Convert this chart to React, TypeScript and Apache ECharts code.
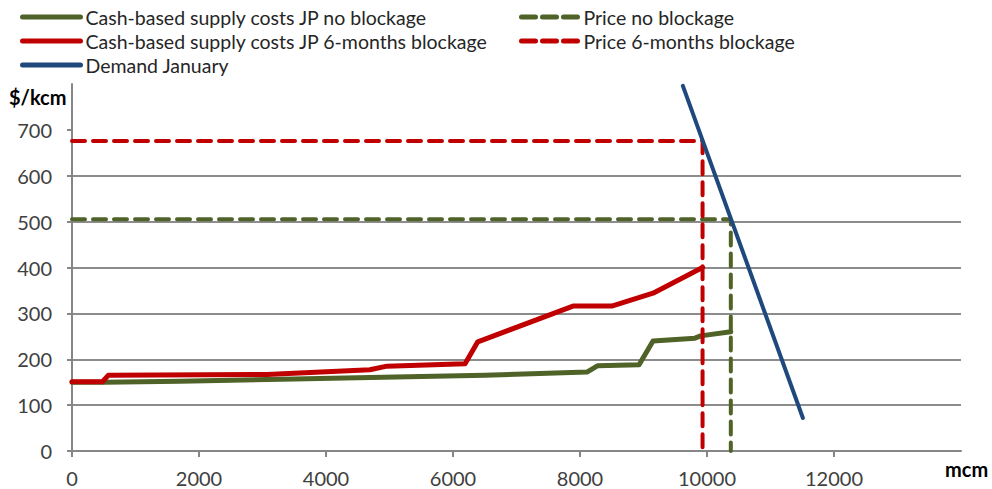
import React, { useEffect, useRef } from "react";
import * as echarts from "echarts";

// Cash-based supply cost curves (x: mcm, y: $/kcm)
const supplyNoBlockage: [number, number][] = [
  [0, 150], [500, 150], [1700, 152], [3500, 157], [6500, 165],
  [8110, 172], [8280, 186], [8930, 188], [9150, 240], [9810, 246],
  [9900, 251], [10375, 260],
];
const supplyBlockage: [number, number][] = [
  [0, 151], [480, 151], [570, 165], [3070, 167], [4690, 177],
  [4960, 185], [6190, 190], [6390, 238], [7890, 316], [8500, 316],
  [9150, 344], [9930, 400],
];
// Market clearing prices and quantities
const priceNoBlockage: [number, number][] = [[0, 505], [10375, 505], [10375, 0]];
const priceBlockage: [number, number][] = [[0, 676], [9930, 676], [9930, 0]];
// Demand curve for January
const demandJanuary: [number, number][] = [[9620, 796], [11510, 72]];

const xTicks = [0, 2000, 4000, 6000, 8000, 10000, 12000];
const yTicks = [0, 100, 200, 300, 400, 500, 600, 700];

const GREEN = "#4F6228";
const RED = "#C00000";
const BLUE = "#1F497D";
const FONT = "Lato";
const TEXT = "#404040";

const N_GREEN = "Cash-based supply costs JP no blockage";
const N_RED = "Cash-based supply costs JP 6-months blockage";
const N_DEMAND = "Demand January";
const N_PGREEN = "Price no blockage";
const N_PRED = "Price 6-months blockage";

export default function App() {
  const ref = useRef<HTMLDivElement>(null);
  useEffect(() => {
    if (!ref.current) return;
    const chart = echarts.init(ref.current, undefined, { renderer: "svg" });
    const solid = (name: string, color: string, data: [number, number][], width = 5) => ({
      name,
      type: "line",
      data,
      symbol: "none",
      lineStyle: { color, width, cap: "round", join: "round" },
      itemStyle: { color },
    });
    const dashed = (name: string, color: string, data: [number, number][]) => ({
      name,
      type: "line",
      data,
      symbol: "none",
      lineStyle: { color, width: 4, type: [13, 8], cap: "round" },
      itemStyle: { color },
    });
    const legendText = { fontFamily: FONT, fontSize: 19.5, color: "#262626" };
    const legendSolid = (name: string, color: string) => ({
      name,
      itemStyle: { opacity: 0 },
      lineStyle: { color, width: 5, cap: "round", type: "solid" },
    });
    const legendDashed = (name: string, color: string) => ({
      name,
      itemStyle: { opacity: 0 },
      lineStyle: { color, width: 5, cap: "round", type: [14, 7] },
    });
    chart.setOption({
      animation: false,
      textStyle: { fontFamily: FONT },
      grid: { left: 72, right: 31, top: 84, bottom: 38, containLabel: false },
      legend: [
        {
          orient: "vertical",
          left: 15,
          top: 2,
          itemWidth: 58,
          itemHeight: 14,
          itemGap: 4,
          data: [legendSolid(N_GREEN, GREEN), legendSolid(N_RED, RED), legendSolid(N_DEMAND, BLUE)],
          textStyle: legendText,
        },
        {
          orient: "vertical",
          left: 514,
          top: 2,
          itemWidth: 57,
          itemHeight: 14,
          itemGap: 4,
          data: [legendDashed(N_PGREEN, GREEN), legendDashed(N_PRED, RED)],
          textStyle: legendText,
        },
      ],
      xAxis: {
        type: "value",
        min: 0,
        max: 14000,
        interval: 2000,
        axisLine: { show: true, lineStyle: { color: "#868686", width: 2 } },
        axisTick: { show: true, length: 6, customValues: xTicks, lineStyle: { color: "#868686", width: 2 } },
        axisLabel: {
          customValues: xTicks,
          margin: 17,
          fontSize: 20,
          color: TEXT,
          fontFamily: FONT,
          formatter: (v: number) => String(v),
        },
        splitLine: { show: false },
      },
      yAxis: {
        type: "value",
        min: 0,
        max: 800,
        interval: 100,
        axisLine: { show: true, lineStyle: { color: "#868686", width: 2 } },
        axisTick: { show: true, length: 5, customValues: yTicks, lineStyle: { color: "#868686", width: 2 } },
        axisLabel: {
          customValues: yTicks,
          margin: 20,
          fontSize: 20,
          color: TEXT,
          fontFamily: FONT,
          formatter: (v: number) => String(v),
        },
        splitLine: { show: true, showMaxLine: false, lineStyle: { color: "#8c8c8c", width: 2 } },
      },
      graphic: [
        { type: "text", left: 9, top: 87, style: { text: "$/kcm", font: `bold 20px ${FONT}`, fill: "#000" } },
        { type: "text", left: 945, top: 459, style: { text: "mcm", font: `bold 20px ${FONT}`, fill: "#000" } },
      ],
      series: [
        solid(N_GREEN, GREEN, supplyNoBlockage),
        dashed(N_PGREEN, GREEN, priceNoBlockage),
        solid(N_RED, RED, supplyBlockage),
        dashed(N_PRED, RED, priceBlockage),
        solid(N_DEMAND, BLUE, demandJanuary, 4),
      ],
    });
    return () => chart.dispose();
  }, []);
  return <div ref={ref} style={{ width: 992, height: 489, position: "absolute", left: 0, top: 0 }} />;
}
